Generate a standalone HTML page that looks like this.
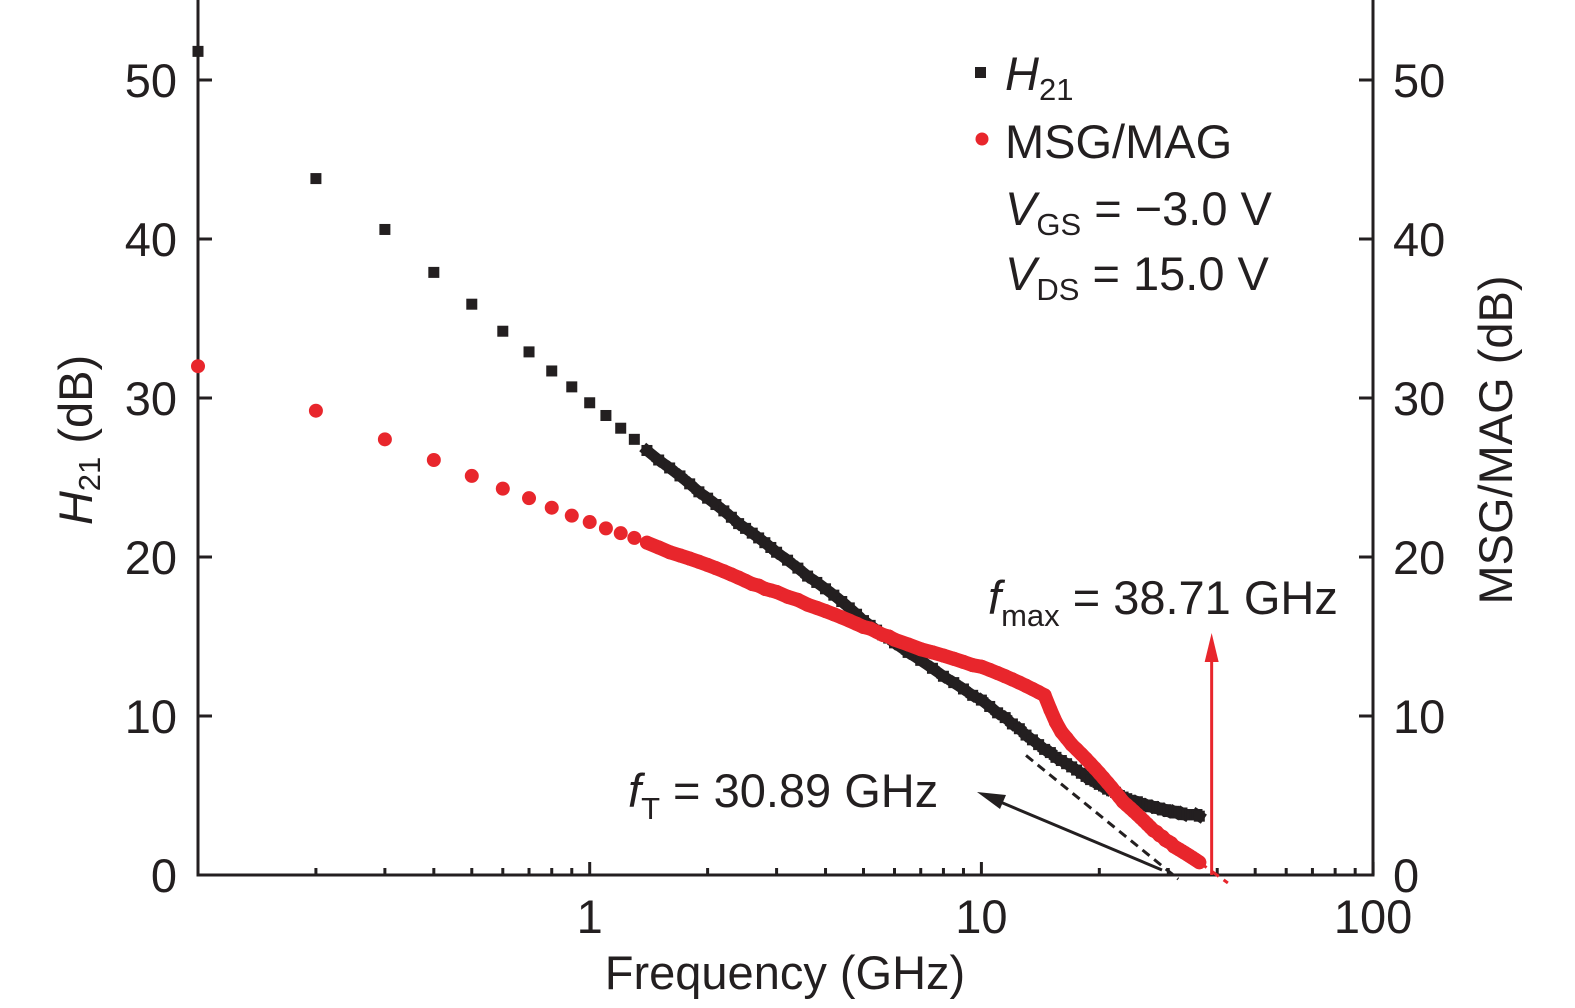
<!DOCTYPE html>
<html><head><meta charset="utf-8"><style>
html,body{margin:0;padding:0;background:#fff;}
svg{display:block;font-family:"Liberation Sans",sans-serif;}
</style></head><body>
<svg id="chart" width="1575" height="1008" viewBox="0 0 1575 1008" xmlns="http://www.w3.org/2000/svg">
<g id="axes"></g>
<g id="guides"></g>
<g id="series"></g>
<g id="labels" font-size="47" fill="#231f20">
  <text transform="translate(92,440) rotate(-90)" text-anchor="middle"><tspan font-style="italic">H</tspan><tspan font-size="31" dy="8">21</tspan><tspan dy="-8"> (dB)</tspan></text>
  <text transform="translate(1512,440) rotate(-90)" text-anchor="middle">MSG/MAG (dB)</text>
  <text x="785" y="989" text-anchor="middle">Frequency (GHz)</text>
  <rect x="975" y="67" width="11" height="11" fill="#231f20"/>
  <text x="1005" y="90"><tspan font-style="italic">H</tspan><tspan font-size="31" dy="10">21</tspan></text>
  <circle cx="982" cy="139" r="6.5" fill="#e8262c"/>
  <text x="1005" y="158">MSG/MAG</text>
  <text x="1005" y="225"><tspan font-style="italic">V</tspan><tspan font-size="31" dy="10">GS</tspan><tspan dy="-10"> = −3.0 V</tspan></text>
  <text x="1005" y="290"><tspan font-style="italic">V</tspan><tspan font-size="31" dy="10">DS</tspan><tspan dy="-10"> = 15.0 V</tspan></text>
  <text x="988" y="614"><tspan font-style="italic">f</tspan><tspan font-size="31" dy="12">max</tspan><tspan dy="-12"> = 38.71 GHz</tspan></text>
  <text x="628" y="807"><tspan font-style="italic">f</tspan><tspan font-size="31" dy="12">T</tspan><tspan dy="-12"> = 30.89 GHz</tspan></text>
</g>
</svg>
<script>
const freqs = [0.1,0.2,0.3,0.4,0.5,0.6,0.7,0.8,0.9,1.0,1.1,1.2,1.3,1.4,1.5,1.6,1.7,1.8,1.9,2.0,2.1,2.2,2.3,2.4,2.5,2.6,2.7,2.8,2.9,3.0,
3.2,3.4,3.6,3.8,4.0,4.2,4.4,4.6,4.8,5.0,5.2,5.4,5.6,5.8,6.0,
6.5,7,7.5,8,8.5,9,9.5,10,10.5,11,11.5,12,12.5,13,13.5,14,14.5,15,15.5,16,16.5,17,17.5,18,18.5,19,19.5,20,20.5,21,21.5,22,22.5,23,23.5,24,24.5,25,25.5,26,26.5,27,27.5,28,28.5,29,29.5,30,30.5,31,31.5,32,32.5,33,33.5,34,34.5,35,35.5,36];
const h21Values = [51.8,43.8,40.6,37.9,35.9,34.2,32.9,31.7,30.7,29.7,28.9,28.1,27.4,26.7,26.1,25.6,25.1,24.6,24.1,23.7,23.3,22.9,22.5,22.1,21.8,21.5,21.2,20.9,20.6,20.3,
19.8,19.3,18.8,18.4,18.0,17.6,17.2,16.8,16.4,16.0,15.7,15.4,15.1,14.9,14.6,
14.0,13.5,13.0,12.5,12.1,11.7,11.3,11.0,10.6,10.2,9.9,9.5,9.2,8.8,8.5,8.2,7.9,7.7,7.4,7.2,7.0,6.8,6.6,6.4,6.2,6.0,5.9,5.7,5.6,5.4,5.3,5.2,5.0,4.9,4.8,4.7,4.6,4.6,4.5,4.4,4.4,4.3,4.3,4.2,4.2,4.1,4.1,4.0,4.0,4.0,3.9,3.9,3.9,3.8,3.8,3.8,3.8,3.8,3.8,3.7,3.7];
const msgValues = [32.0,29.2,27.4,26.1,25.1,24.3,23.7,23.1,22.6,22.2,21.8,21.5,21.2,20.9,20.6,20.3,20.1,19.9,19.7,19.5,19.3,19.1,18.9,18.7,18.5,18.3,18.2,18.0,17.9,17.8,
17.5,17.3,17.0,16.8,16.6,16.4,16.2,16.0,15.8,15.6,15.5,15.3,15.1,15.0,14.8,
14.5,14.2,14.0,13.8,13.6,13.4,13.2,13.1,12.9,12.7,12.5,12.3,12.1,11.9,11.7,11.5,11.3,10.4,9.6,9.0,8.6,8.2,7.9,7.6,7.3,7.0,6.7,6.4,6.1,5.8,5.5,5.2,4.9,4.6,4.4,4.2,4.0,3.8,3.6,3.4,3.2,3.0,2.8,2.7,2.5,2.4,2.2,2.1,2.0,1.8,1.7,1.6,1.5,1.4,1.3,1.2,1.1,1.0,0.9,0.8];
const yTicks = [0,10,20,30,40,50];
const xMajorTicks = [1,10,100];
const xMinorTicks = [0.2,0.3,0.4,0.5,0.6,0.7,0.8,0.9,2,3,4,5,6,7,8,9,20,30,40,50,60,70,80,90];
const ftValue = 30.89;
const fmaxValue = 38.71;

const NS='http://www.w3.org/2000/svg';
const X0=198,X1=1373,Y0=875,YT=0;
const xs=f=>X0+(Math.log10(f)+1)*391.7;
const ys=v=>Y0-v*15.9;
function mk(tag,attrs,parent){const e=document.createElementNS(NS,tag);for(const k in attrs)e.setAttribute(k,attrs[k]);parent.appendChild(e);return e;}
const axes=document.getElementById('axes');
const C='#231f20';
let a=mk('line',{x1:X0,y1:YT,x2:X0,y2:Y0+1.5,stroke:C,'stroke-width':3},axes);


a=mk('line',{x1:X1,y1:YT,x2:X1,y2:Y0+1.5,stroke:C,'stroke-width':3},axes);


a=mk('line',{x1:X0-1.5,y1:Y0,x2:X1+1.5,y2:Y0,stroke:C,'stroke-width':3},axes);


yTicks.forEach(v=>{
  let t=mk('line',{x1:X0,y1:ys(v),x2:X0+14,y2:ys(v),stroke:C,'stroke-width':3},axes);
  
  
  t=mk('line',{x1:X1,y1:ys(v),x2:X1-14,y2:ys(v),stroke:C,'stroke-width':3},axes);
  
  
  let l=mk('text',{x:177,y:ys(v)+17,'text-anchor':'end','font-size':47,fill:C},axes);l.textContent=v;
  
  
  l=mk('text',{x:1393,y:ys(v)+17,'text-anchor':'start','font-size':47,fill:C},axes);l.textContent=v;
  
  
});
xMajorTicks.forEach(f=>{
  let t=mk('line',{x1:xs(f),y1:Y0,x2:xs(f),y2:Y0-13,stroke:C,'stroke-width':3},axes);
  
  
  let l=mk('text',{x:xs(f),y:933,'text-anchor':'middle','font-size':47,fill:C},axes);l.textContent=f;
  
  
});
xMinorTicks.forEach(f=>{
  let t=mk('line',{x1:xs(f),y1:Y0,x2:xs(f),y2:Y0-7,stroke:C,'stroke-width':3},axes);
  
  
});

const guides=document.getElementById('guides');
let g=mk('line',{x1:xs(13),y1:ys(20*Math.log10(ftValue/13)),x2:xs(ftValue*1.03),y2:ys(20*Math.log10(ftValue/(ftValue*1.03))),stroke:C,'stroke-width':3,'stroke-dasharray':'9,6'},guides);


const lastF=freqs[freqs.length-1],lastM=msgValues[msgValues.length-1];
g=mk('line',{x1:xs(lastF),y1:ys(lastM),x2:xs(fmaxValue*1.1),y2:ys(-0.5),stroke:'#e8262c','stroke-width':3,'stroke-dasharray':'9,6'},guides);


g=mk('line',{x1:xs(fmaxValue),y1:Y0,x2:xs(fmaxValue),y2:655,stroke:'#e8262c','stroke-width':3},guides);


g=mk('polygon',{points:`${xs(fmaxValue)},633 ${xs(fmaxValue)-7},662 ${xs(fmaxValue)+7},662`,fill:'#e8262c'},guides);


g=mk('line',{x1:1162,y1:870,x2:998,y2:801,stroke:C,'stroke-width':3},guides);


g=mk('polygon',{points:'977,792 1006,795 1000,809',fill:C},guides);



const series=document.getElementById('series');
function drawSeries(vals,color,shape,name){
  const grp=mk('g',{},series);
  
  
  for(let i=1;i<freqs.length;i++){
    const x1=xs(freqs[i-1]),y1=ys(vals[i-1]),x2=xs(freqs[i]),y2=ys(vals[i]);
    if(freqs[i-1]>=1.4 && Math.hypot(x2-x1,y2-y1)<30){
      const s=mk('line',{x1,y1,x2,y2,stroke:color,'stroke-width':shape==='sq'?11:14,'stroke-linecap':shape==='sq'?'square':'round'},grp);
      
      
    }
  }
  freqs.forEach((f,i)=>{
    let m;
    if(shape==='sq') m=mk('rect',{x:xs(f)-5.5,y:ys(vals[i])-5.5,width:11,height:11,fill:color},grp);
    else m=mk('circle',{cx:xs(f),cy:ys(vals[i]),r:7,fill:color},grp);
    
    
  });
}
drawSeries(h21Values,C,'sq','h21-series');
drawSeries(msgValues,'#e8262c','ci','msg-mag-series');
</script>
</body></html>
